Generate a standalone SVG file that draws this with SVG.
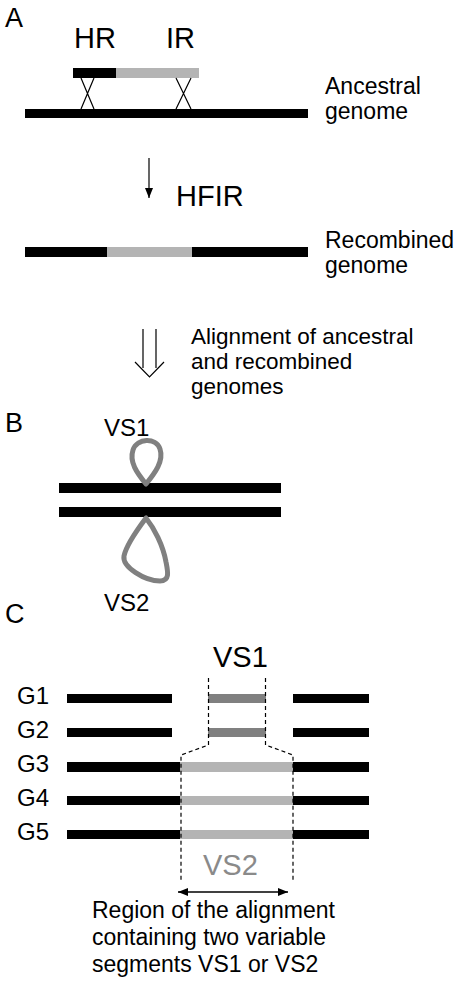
<svg xmlns="http://www.w3.org/2000/svg" width="454" height="983" viewBox="0 0 454 983">
<defs>
<style>
text{font-family:"Liberation Sans",Arial,sans-serif;fill:#000}
.big{font-size:29px}
.lab{font-size:27px}
.sm{font-size:23px}
.g{font-size:24px}
.blk{fill:#000}
.lg{fill:#b4b4b4}
.dg{fill:#808080}
.thin{stroke:#000;stroke-width:1.2;fill:none}
.dash{stroke:#000;stroke-width:1.2;fill:none;stroke-dasharray:4,3}
.loop{stroke:#808080;stroke-width:5;fill:none;stroke-linejoin:round}
</style>
<marker id="ah" viewBox="0 0 10 10" refX="10" refY="5" markerWidth="10" markerHeight="10" markerUnits="userSpaceOnUse" orient="auto-start-reverse">
<path d="M0,1 L10,5 L0,9 Z" fill="#000"/>
</marker>
</defs>

<g id="panelA">
<text class="lab" x="5" y="27">A</text>
<g id="hr-ir">
<text class="big" x="74" y="48">HR</text>
<text class="big" x="166" y="48">IR</text>
<rect class="blk" x="73" y="68" width="43" height="10"/>
<rect class="lg" x="116" y="68" width="83" height="10"/>
</g>
<g id="crossovers">
<path class="thin" d="M81,78 L94,109 M94,78 L81,109"/>
<path class="thin" d="M176,78 L191,109 M191,78 L176,109"/>
</g>
<g id="ancestral">
<rect class="blk" x="25" y="109" width="283" height="9"/>
<text class="sm" x="325" y="94">Ancestral</text>
<text class="sm" x="325" y="119">genome</text>
</g>
<g id="recombined">
<rect class="blk" x="25" y="247" width="82" height="10"/>
<rect class="lg" x="107" y="247" width="85" height="10"/>
<rect class="blk" x="192" y="247" width="116" height="10"/>
<text class="sm" x="325" y="248">Recombined</text>
<text class="sm" x="325" y="273">genome</text>
</g>
<text class="big" x="176" y="206">HFIR</text>
<text class="sm" x="191" y="344" style="font-size:22.5px">Alignment of ancestral</text>
<text class="sm" x="191" y="369" style="font-size:22.5px">and recombined</text>
<text class="sm" x="191" y="394" style="font-size:22.5px">genomes</text>
</g>

<g id="connectors">
<line x1="149" y1="158" x2="149" y2="198" stroke="#000" stroke-width="1.2" marker-end="url(#ah)"/>
<path class="thin" d="M143,329 L143,368 M156,329 L156,368 M135,362 L149.5,377 L164,362"/>
<line x1="178" y1="892" x2="288" y2="892" stroke="#000" stroke-width="1.5" marker-start="url(#ah)" marker-end="url(#ah)"/>
</g>

<g id="panelB">
<text class="lab" x="5" y="432">B</text>
<text class="g" x="104" y="436">VS1</text>
<rect class="blk" x="59" y="483" width="222" height="10"/>
<rect class="blk" x="59" y="507" width="222" height="10"/>
<path class="loop" d="M146,484 C137,473 129,462 133,450 C137,438 156,437 160,449 C164,461 155,473 146,484 Z"/>
<path class="loop" d="M146,518 C137,530 126,546 124,556 C122,567 145,581 160,581 C170,581 168,572 166,562 C163,545 154,528 146,518 Z"/>
<text class="g" x="104" y="611">VS2</text>
</g>

<g id="panelC">
<text class="lab" x="5" y="623">C</text>
<text class="big" x="213" y="667">VS1</text>
<g id="G1">
<text class="g" x="17" y="704">G1</text>
<rect class="blk" x="67" y="694" width="105" height="9"/>
<rect class="dg" x="208" y="694" width="58" height="9"/>
<rect class="blk" x="293" y="694" width="76" height="9"/>
</g>
<g id="G2">
<text class="g" x="17" y="738">G2</text>
<rect class="blk" x="67" y="728" width="105" height="9"/>
<rect class="dg" x="208" y="728" width="58" height="9"/>
<rect class="blk" x="293" y="728" width="76" height="9"/>
</g>
<g id="G3">
<text class="g" x="17" y="772">G3</text>
<rect class="blk" x="67" y="762" width="113" height="10"/>
<rect class="lg" x="180" y="762" width="113" height="10"/>
<rect class="blk" x="293" y="762" width="76" height="10"/>
</g>
<g id="G4">
<text class="g" x="17" y="806">G4</text>
<rect class="blk" x="67" y="796" width="113" height="9"/>
<rect class="lg" x="180" y="796" width="113" height="9"/>
<rect class="blk" x="293" y="796" width="76" height="9"/>
</g>
<g id="G5">
<text class="g" x="17" y="840">G5</text>
<rect class="blk" x="67" y="830" width="113" height="9"/>
<rect class="lg" x="180" y="830" width="113" height="9"/>
<rect class="blk" x="293" y="830" width="76" height="9"/>
</g>
<path class="dash" d="M208.5,678 L208.5,745 L181,755 L181,880"/>
<path class="dash" d="M265.5,678 L265.5,745 L293,755 L293,880"/>
<text class="big" x="203" y="875" style="fill:#8a8a8a">VS2</text>
<text class="sm" x="92" y="918">Region of the alignment</text>
<text class="sm" x="92" y="945">containing two variable</text>
<text class="sm" x="92" y="972">segments VS1 or VS2</text>
</g>
</svg>
